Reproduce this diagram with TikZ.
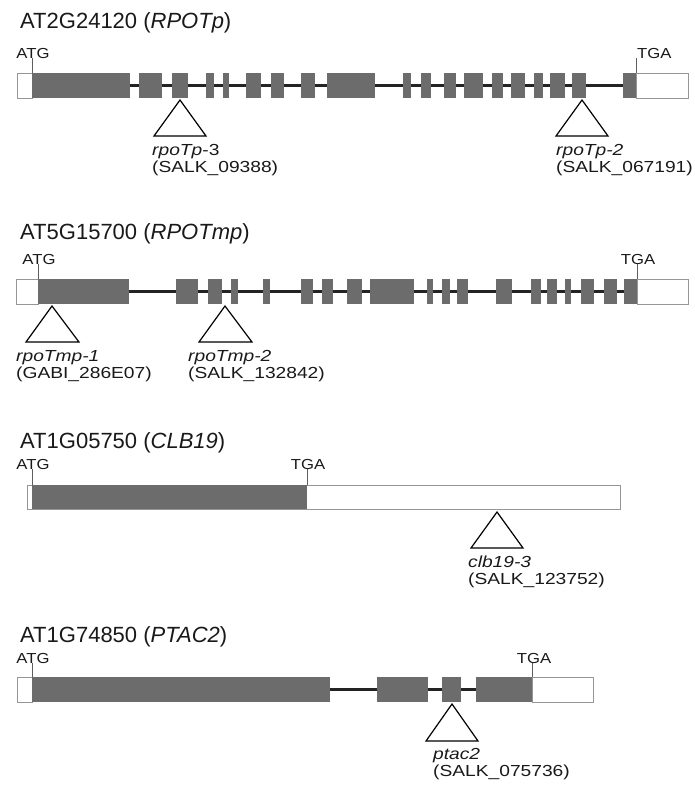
\documentclass[tikz,border=0pt]{standalone}
\usepackage{fontspec}
\setmainfont{Liberation Sans}
\newfontfamily\widesans[FakeStretch=1.2]{Liberation Sans}
\newfontfamily\sitesans[FakeStretch=1.15]{Liberation Sans}
\usetikzlibrary{positioning}
\definecolor{exongray}{RGB}{108,108,108}
\definecolor{utrgray}{RGB}{150,150,150}
\definecolor{introncol}{RGB}{35,35,35}
\definecolor{tickgray}{RGB}{95,95,95}
\definecolor{textcol}{RGB}{25,25,25}

\begin{document}
\begin{tikzpicture}[x=1pt, y=-1pt]
    % Styles for gene models and labels
    \tikzstyle{exon} = [fill=exongray]
    \tikzstyle{utr} = [draw=utrgray, fill=white, line width=1pt]
    \tikzstyle{intron} = [draw=introncol, line width=2.6pt]
    \tikzstyle{tick} = [draw=tickgray, line width=0.9pt]
    \tikzstyle{ins} = [draw=black, fill=white, line width=1.2pt, line join=miter]
    \tikzstyle{gene} = [anchor=base west, inner sep=0, text=textcol, font=\fontsize{22}{26}\selectfont]
    \tikzstyle{site} = [anchor=base, inner sep=0, text=textcol, font=\sitesans\fontsize{14.5}{16}\selectfont]
    \tikzstyle{allele} = [anchor=base west, inner sep=0, text=textcol, font=\widesans\fontsize{16}{17}\selectfont]

    \useasboundingbox (0,0) rectangle (694,790);

  % AT2G24120 (RPOTp)
    \node[gene] (g1) at (20,28) {AT2G24120 (\textit{RPOTp})};
    \draw[intron] (130,85.5) -- (623,85.5);
    \draw[utr] (17,73) rectangle (32,98);
    \draw[utr] (636,73) rectangle (688,98);
    \foreach \a/\b in {32/130, 139/162, 172/188, 206/214, 223/229, 246/261, 271/284, 301/315, 327/375, 403/411,
                       421/431, 444/456, 464/483, 492/503, 511/525, 534/543, 550/565, 572/586, 623/636}
        \fill[exon] (\a,73) rectangle (\b,98);
    \draw[tick] (32,73) -- (32,58);
    \node[site] (atg1) at (33,58) {ATG};
    \draw[tick] (636,73) -- (636,58);
    \node[site, anchor=base west] (tga1) at (637,58) {TGA};
    \draw[ins] (180,100) -- (206,136) -- (154,136) -- cycle;
    \node[allele] (m1) at (152,155) {\textit{rpoTp}-3};
    \node[allele] (m1s) at (152,172) {(SALK\_09388)};
    \draw[ins] (582,100) -- (608,136) -- (556,136) -- cycle;
    \node[allele] (m2) at (556,155) {\textit{rpoTp-2}};
    \node[allele] (m2s) at (556,172) {(SALK\_067191)};

  % AT5G15700 (RPOTmp)
    \node[gene] (g2) at (20,239) {AT5G15700 (\textit{RPOTmp})};
    \draw[intron] (129,291.5) -- (624,291.5);
    \draw[utr] (16,279) rectangle (38,304);
    \draw[utr] (637,279) rectangle (688,304);
    \foreach \a/\b in {38/129, 176/198, 208/222, 231/238, 263/270, 301/313, 322/333, 347/362, 370/414, 427/433,
                       442/450, 457/468, 496/512, 531/541, 547/557, 565/571, 581/594, 604/617, 624/637}
        \fill[exon] (\a,279) rectangle (\b,304);
    \draw[tick] (38,279) -- (38,264);
    \node[site] (atg2) at (39,264) {ATG};
    \draw[tick] (637,279) -- (637,264);
    \node[site] (tga2) at (638,264) {TGA};
    \draw[ins] (52,306) -- (79,342) -- (26,342) -- cycle;
    \node[allele] (m3) at (16,361) {\textit{rpoTmp-1}};
    \node[allele] (m3s) at (16,378) {(GABI\_286E07)};
    \draw[ins] (225,306) -- (252,342) -- (199,342) -- cycle;
    \node[allele] (m4) at (188,361) {\textit{rpoTmp-2}};
    \node[allele] (m4s) at (188,378) {(SALK\_132842)};

  % AT1G05750 (CLB19)
    \node[gene] (g3) at (20,448) {AT1G05750 (\textit{CLB19})};
    \draw[utr] (27,485) rectangle (620,509);
    \fill[exon] (32,485) rectangle (307,509);
    \draw[tick] (32,485) -- (32,469);
    \node[site] (atg3) at (33,469) {ATG};
    \draw[tick] (307,485) -- (307,469);
    \node[site] (tga3) at (308,469) {TGA};
    \draw[ins] (497,512) -- (523,548) -- (471,548) -- cycle;
    \node[allele] (m5) at (468,567) {\textit{clb19-3}};
    \node[allele] (m5s) at (468,584) {(SALK\_123752)};

  % AT1G74850 (PTAC2)
    \node[gene] (g4) at (20,642) {AT1G74850 (\textit{PTAC2})};
    \draw[intron] (330,689.5) -- (476,689.5);
    \draw[utr] (17,677) rectangle (32,702);
    \draw[utr] (532,677) rectangle (593,702);
    \foreach \a/\b in {32/330, 377/428, 442/461, 476/532}
        \fill[exon] (\a,677) rectangle (\b,702);
    \draw[tick] (32,677) -- (32,663);
    \node[site] (atg4) at (33,663) {ATG};
    \draw[tick] (532,677) -- (532,663);
    \node[site] (tga4) at (534,663) {TGA};
    \draw[ins] (452,704) -- (478,741) -- (426,741) -- cycle;
    \node[allele] (m6) at (433,759) {\textit{ptac2}};
    \node[allele] (m6s) at (433,776) {(SALK\_075736)};

\end{tikzpicture}
\end{document}
